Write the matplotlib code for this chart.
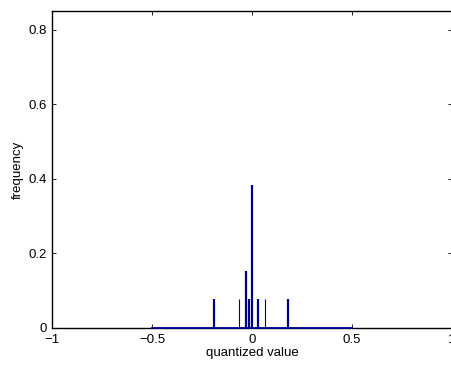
import matplotlib
matplotlib.use("Agg")
import matplotlib.pyplot as plt

# quantized values and their relative frequencies (13 samples)
values = [-0.19, -0.063, -0.03, -0.015, 0.0, 0.028, 0.067, 0.18]
freqs = [1/13, 1/13, 2/13, 1/13, 5/13, 1/13, 1/13, 1/13]
base_range = [-0.5, 0.5]

xticks = [-1, -0.5, 0, 0.5, 1]
xticklabels = ['\u22121', '\u22120.5', '0', '0.5', '1']
yticks = [0, 0.2, 0.4, 0.6, 0.8]
yticklabels = ['0', '0.2', '0.4', '0.6', '0.8']

plt.rcParams['font.family'] = ['Liberation Sans', 'DejaVu Sans']
plt.rcParams['font.size'] = 9.5

fig = plt.figure(figsize=(4.51, 3.65), dpi=100)
ax = fig.add_axes([52/451, 37/365, 400/451, 317/365])

blue = '#00008f'
ax.plot(base_range, [0, 0], color=blue, lw=1.3, zorder=3, clip_on=False)
widths = [2, 1, 2, 2, 2, 2, 1, 2]
for v, f, w in zip(values, freqs, widths):
    ax.vlines(v, 0, f, color=blue, lw=w * 0.8, zorder=3)

ax.set_xlim(-1, 1)
ax.set_ylim(0, 0.851)
ax.set_xticks(xticks)
ax.set_xticklabels(xticklabels)
ax.set_yticks(yticks)
ax.set_yticklabels(yticklabels)
ax.tick_params(axis='x', direction='in', top=True, length=3, width=0.6, pad=4)
ax.tick_params(axis='y', direction='in', right=True, length=3, width=0.6, pad=4)
for s in ax.spines.values():
    s.set_linewidth(1.0)

ax.set_xlabel('quantized value', labelpad=1)
ax.set_ylabel('frequency', labelpad=3)

fig.savefig('out.png', dpi=100)
